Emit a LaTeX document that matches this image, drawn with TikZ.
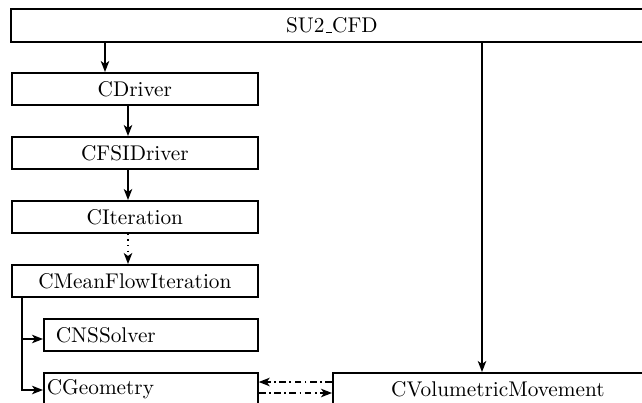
\documentclass[tikz,border=0pt]{standalone}
\usetikzlibrary{arrows.meta}
\newcommand{\pxu}{0.47pt}
\newcommand{\myus}{\leavevmode\kern.06em\vbox{\hrule width.3em}}
\begin{document}
\begin{tikzpicture}[x=0.47pt,y=-0.47pt,
  box/.style={draw, line width=0.8pt, rectangle, minimum height=32*\pxu, inner sep=0pt, anchor=north west},
  arr/.style={-{Stealth[length=11*\pxu,width=8.5*\pxu,inset=3*\pxu]}, line width=0.65pt},
  dd/.style={dash pattern=on 3.2pt off 1.6pt on 0.8pt off 1.6pt},
  dot/.style={dotted}]
\useasboundingbox (0,0) rectangle (642,403);
\node[box, minimum width=642*\pxu, minimum height=33*\pxu] (SU) at (10,8) {SU2\myus CFD};
\node[box, minimum width=246*\pxu] (CD) at (11,72) {CDriver};
\node[box, minimum width=246*\pxu] (FSI) at (11,136) {CFSIDriver};
\node[box, minimum width=246*\pxu] (IT) at (11,200) {CIteration};
\node[box, minimum width=246*\pxu] (MF) at (11,264) {CMeanFlowIteration};
\node[box, minimum width=214*\pxu, text width=190*\pxu, align=left, inner xsep=12*\pxu] (NS) at (43,318) {CNSSolver};
\node[box, minimum width=214*\pxu, text width=208*\pxu, align=left, inner xsep=3*\pxu] (GE) at (43,372) {CGeometry};
\node[box, minimum width=330*\pxu] (VM) at (332,372) {CVolumetricMovement};
% arrows
\coordinate (a1) at ([xshift=94*\pxu]CD.north west);
\draw[arr] (a1 |- SU.south) -- (a1);
\coordinate (a2) at ([xshift=150*\pxu]VM.north west);
\draw[arr] (a2 |- SU.south) -- (a2);
\coordinate (b1) at ([xshift=117*\pxu]FSI.north west);
\draw[arr] (b1 |- CD.south) -- (b1);
\coordinate (b2) at ([xshift=117*\pxu]IT.north west);
\draw[arr] (b2 |- FSI.south) -- (b2);
\coordinate (b3) at ([xshift=117*\pxu]MF.north west);
\draw[arr,dot] (b3 |- IT.south) -- (b3);
% tree from MF
\coordinate (t0) at ([xshift=11*\pxu]MF.south west);
\coordinate (t1) at ([yshift=-21*\pxu]NS.north west);
\coordinate (t2) at ([yshift=-18*\pxu]GE.north west);
\draw[arr] (t0) |- (t2);
\draw[arr] (t0 |- t1) -- (t1);
% dash-dot
\coordinate (d1) at ([yshift=-10*\pxu]VM.north west);
\draw[arr,dd] (d1) -- (d1 -| GE.east);
\coordinate (d2) at ([yshift=-21*\pxu]GE.north east);
\draw[arr,dd] (d2) -- (d2 -| VM.west);
\end{tikzpicture}
\end{document}
